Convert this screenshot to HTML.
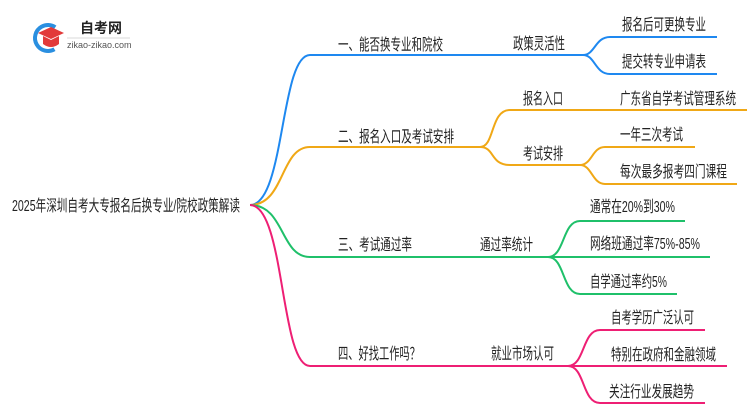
<!DOCTYPE html>
<html><head><meta charset="utf-8"><style>
html,body{margin:0;padding:0;background:#fff;width:750px;height:410px;overflow:hidden}
svg text{font-family:"Liberation Sans","Noto Sans CJK SC",sans-serif;font-size:16px;fill:#222}
</style></head><body>
<svg width="750" height="410" viewBox="0 0 750 410" xmlns="http://www.w3.org/2000/svg">
<circle cx="48" cy="38" r="13" fill="none" stroke="#2a8fe0" stroke-width="4" stroke-dasharray="55 30" transform="rotate(60 48 38)"/>
<polygon points="38,33 51,27 64,33 51,39" fill="#e23a3a"/>
<path d="M43,36 L43,44 Q51,50 59,44 L59,36 L51,40 Z" fill="#e23a3a"/>
<text x="80" y="33" style="font-size:14px;font-weight:bold" fill="#333">自考网</text>
<line x1="67" y1="38" x2="130" y2="38" stroke="#ccc" stroke-width="0.8"/>
<text x="67" y="48" style="font-size:9px;fill:#555">zikao-zikao.com</text>

<text x="12" y="211" textLength="228" lengthAdjust="spacingAndGlyphs">2025年深圳自考大专报名后换专业/院校政策解读</text>

<g fill="none" stroke-width="2">
<path d="M250,205 C285,205 280,55 310,55 L583,55" stroke="#1e88f0"/>
<path d="M583,55 C595,55 595,37 610,37 L717,37" stroke="#1e88f0"/>
<path d="M583,55 C595,55 595,74 610,74 L717,74" stroke="#1e88f0"/>
<path d="M250,205 C285,205 280,147 310,147 L480,147" stroke="#f0a816"/>
<path d="M480,147 C495,147 490,110 510,110 L747,110" stroke="#f0a816"/>
<path d="M480,147 C495,147 490,165 510,165 L580,165" stroke="#f0a816"/>
<path d="M580,165 C592,165 592,147 605,147 L695,147" stroke="#f0a816"/>
<path d="M580,165 C592,165 592,184 605,184 L737,184" stroke="#f0a816"/>
<path d="M250,205 C285,205 280,257 310,257 L548,257" stroke="#1fc06a"/>
<path d="M548,257 C565,257 562,221 580,221 L685,221" stroke="#1fc06a"/>
<path d="M548,257 L710,257" stroke="#1fc06a"/>
<path d="M548,257 C565,257 562,294 580,294 L677,294" stroke="#1fc06a"/>
<path d="M250,205 C285,205 280,366 310,366 L568,366" stroke="#ee1f74"/>
<path d="M568,366 C585,366 582,330 600,330 L705,330" stroke="#ee1f74"/>
<path d="M568,366 L727,366" stroke="#ee1f74"/>
<path d="M568,366 C585,366 582,403 600,403 L705,403" stroke="#ee1f74"/>
</g>

<text x="338" y="50" textLength="105" lengthAdjust="spacingAndGlyphs">一、能否换专业和院校</text>
<text x="513" y="49" textLength="52" lengthAdjust="spacingAndGlyphs">政策灵活性</text>
<text x="622" y="30" textLength="84" lengthAdjust="spacingAndGlyphs">报名后可更换专业</text>
<text x="622" y="67" textLength="84" lengthAdjust="spacingAndGlyphs">提交转专业申请表</text>

<text x="338" y="142" textLength="116" lengthAdjust="spacingAndGlyphs">二、报名入口及考试安排</text>
<text x="523" y="104" textLength="40" lengthAdjust="spacingAndGlyphs">报名入口</text>
<text x="523" y="159" textLength="40" lengthAdjust="spacingAndGlyphs">考试安排</text>
<text x="620" y="104" textLength="116" lengthAdjust="spacingAndGlyphs">广东省自学考试管理系统</text>
<text x="620" y="140" textLength="63" lengthAdjust="spacingAndGlyphs">一年三次考试</text>
<text x="620" y="177" textLength="107" lengthAdjust="spacingAndGlyphs">每次最多报考四门课程</text>

<text x="338" y="250" textLength="74" lengthAdjust="spacingAndGlyphs">三、考试通过率</text>
<text x="480" y="250" textLength="53" lengthAdjust="spacingAndGlyphs">通过率统计</text>
<text x="590" y="212" textLength="85" lengthAdjust="spacingAndGlyphs">通常在20%到30%</text>
<text x="590" y="249" textLength="110" lengthAdjust="spacingAndGlyphs">网络班通过率75%-85%</text>
<text x="590" y="287" textLength="77" lengthAdjust="spacingAndGlyphs">自学通过率约5%</text>

<text x="338" y="359" textLength="82" lengthAdjust="spacingAndGlyphs">四、好找工作吗？</text>
<text x="491" y="359" textLength="63" lengthAdjust="spacingAndGlyphs">就业市场认可</text>
<text x="611" y="323" textLength="83" lengthAdjust="spacingAndGlyphs">自考学历广泛认可</text>
<text x="611" y="360" textLength="105" lengthAdjust="spacingAndGlyphs">特别在政府和金融领域</text>
<text x="609" y="397" textLength="85" lengthAdjust="spacingAndGlyphs">关注行业发展趋势</text>
</svg>
</body></html>
